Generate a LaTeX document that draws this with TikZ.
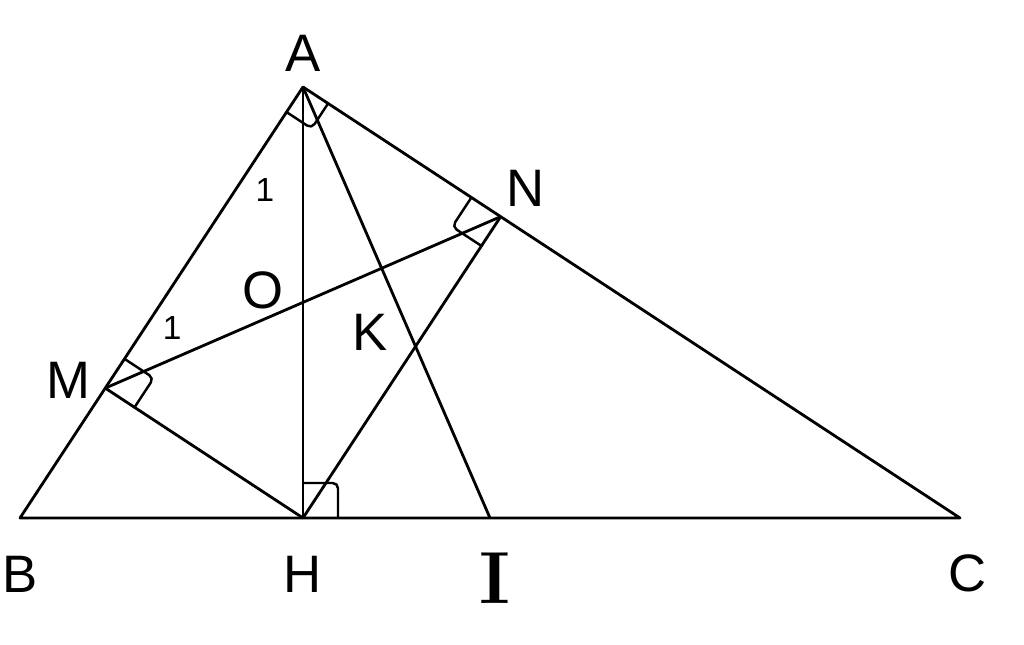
\documentclass[tikz,border=0pt]{standalone}
\usepackage{fontspec}
\setsansfont{Liberation Sans}
\usetikzlibrary{calc}
\tikzset{>=latex}

\begin{document}
\begin{tikzpicture}[line width=1.6pt, line join=round,
		lbl/.style={font=\sffamily\fontsize{30}{36}\selectfont},
		one/.style={font=\sffamily\fontsize{19}{22}\selectfont},
		rmark/.style={line width=1.4pt, rounded corners=3pt}]
		\useasboundingbox (0,0) rectangle (20.48,12.9);

		% Points
		\coordinate (B) at (0.4,2.54);
		\coordinate (C) at (19.2,2.54);
		\coordinate (A) at (6.06,11.16);
		\coordinate (H) at ($(B)!(A)!(C)$);
		\coordinate (I) at ($(B)!0.5!(C)$);
		\coordinate (M) at ($(A)!(H)!(B)$);
		\coordinate (N) at ($(A)!(H)!(C)$);
		\coordinate (O) at ($(M)!0.5!(N)$);
		\coordinate (K) at (intersection of A--I and M--N);

		% Triangle and segments
		\draw (A) -- (B) -- (C) -- cycle;
		\draw (A) -- (H);
		\draw (A) -- (I);
		\draw (M) -- (N);
		\draw (M) -- (H) -- (N);

		% Right angles
		\foreach \p/\u/\v/\s in {A/B/C/0.6cm, H/A/C/0.7cm, M/A/H/0.7cm, N/A/H/0.7cm}{
			\coordinate (r1) at ($(\p)!\s!(\u)$);
			\coordinate (r2) at ($(\p)!\s!(\v)$);
			\draw[rmark] (r1) -- ($(r1)+(r2)-(\p)$) -- (r2);
		}

		% Labels
		\node[lbl] (lA) at ($(A)+(0,0.68)$) {A};
		\node[lbl] (lB) at ($(B)+(0,-1.12)$) {B};
		\node[lbl] (lH) at ($(H)+(0,-1.12)$) {H};
		\node[font=\bfseries\fontsize{42}{48}\selectfont] (lI) at ($(I)+(0.1,-1.2)$) {I};
		\node[lbl] (lC) at ($(C)+(0.16,-1.1)$) {C};
		\node[lbl] (lM) at ($(M)+(-0.74,0.16)$) {M};
		\node[lbl] (lN) at ($(N)+(0.49,0.57)$) {N};
		\node[lbl] (lO) at ($(O)+(-0.8,0.25)$) {O};
		\node[lbl] (lK) at ($(K)+(-0.24,-1.28)$) {K};
		\node[one] (a1) at ($(A)+(-0.76,-2.06)$) {1};
		\node[one] (m1) at ($(M)+(1.34,1.2)$) {1};
\end{tikzpicture}
\end{document}
